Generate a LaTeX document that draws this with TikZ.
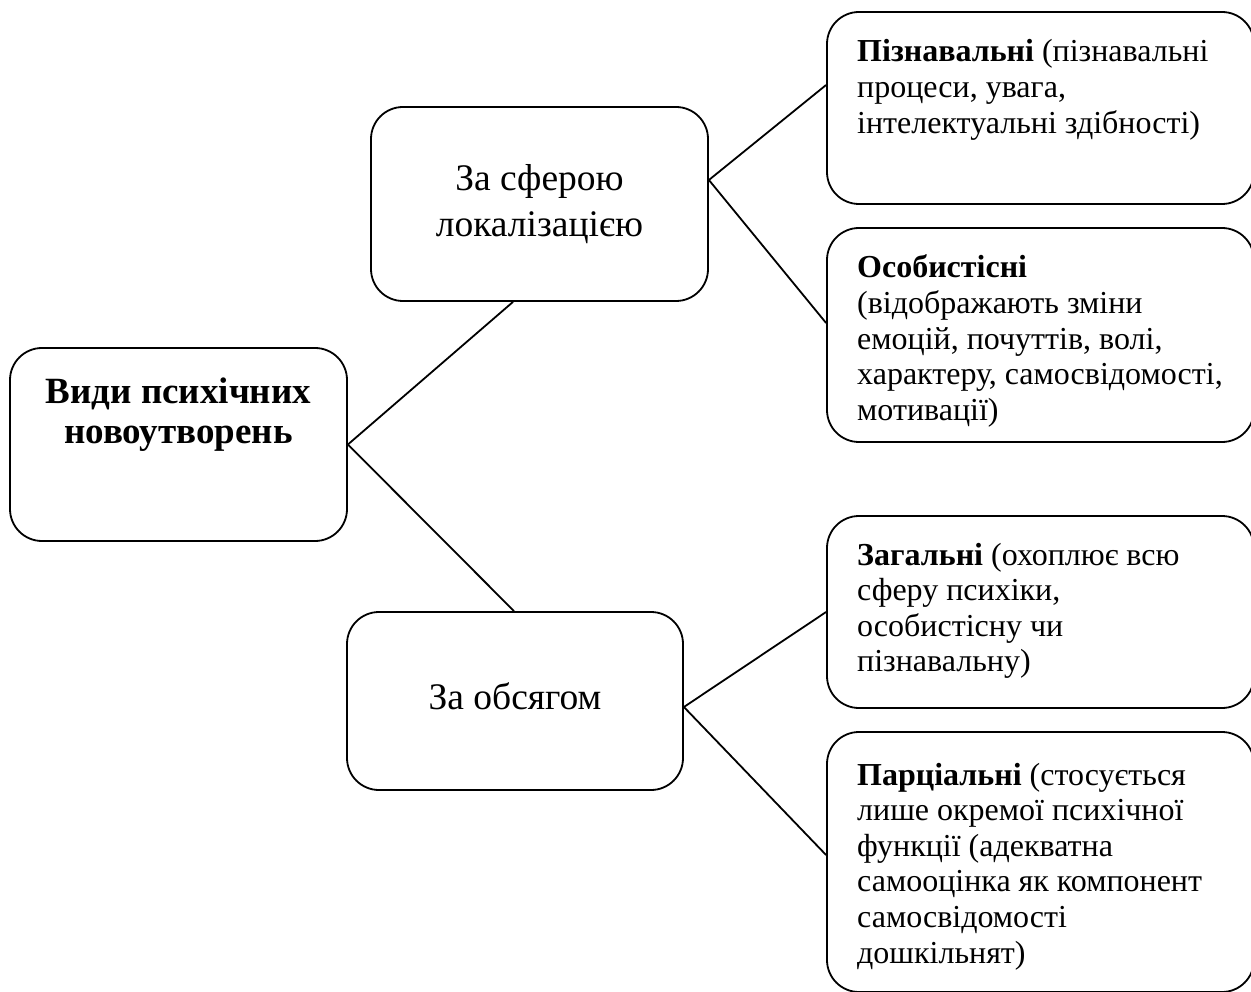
\documentclass[tikz,border=0pt]{standalone}
\usepackage{fontspec}
\setmainfont{Liberation Serif}
\tikzset{
  box/.style={draw, line width=1.8pt, rounded corners=32pt, inner sep=0pt},
  conn/.style={line width=1.8pt},
  sidetext/.style={inner sep=0pt, anchor=base west, font=\fontsize{32}{35.6}\selectfont},
  midtext/.style={inner sep=0pt, anchor=base, font=\fontsize{37.5}{46}\selectfont},
  roottext/.style={inner sep=0pt, anchor=base, font=\fontsize{37}{40}\selectfont\bfseries},
}
\begin{document}
\begin{tikzpicture}[x=1pt,y=-1pt]
\path[use as bounding box, fill=white] (0,0) rectangle (1251,992);

% boxes
\node[box, minimum width=337pt, minimum height=193pt] (root) at (178.5,444.5) {};
\node[box, minimum width=337pt, minimum height=194pt] (sph) at (539.5,204) {};
\node[box, minimum width=336pt, minimum height=178pt] (vol) at (515,701) {};
\node[box, minimum width=427pt, minimum height=192pt] (cog) at (1040.5,108) {};
\node[box, minimum width=427pt, minimum height=214pt] (pers) at (1040.5,335) {};
\node[box, minimum width=427pt, minimum height=192pt] (gen) at (1040.5,612) {};
\node[box, minimum width=427pt, minimum height=260pt] (part) at (1040.5,862) {};

% texts
\node[roottext] (troot) at (178.5,403) {\begin{tabular}[t]{@{}c@{}}Види психічних\\новоутворень\end{tabular}};
\node[midtext] (tsph) at (539.5,191) {\begin{tabular}[t]{@{}c@{}}За сферою\\локалізацією\end{tabular}};
\node[midtext] (tvol) at (515,709) {За обсягом};
\node[sidetext] (tcog) at (857,62) {\begin{tabular}[t]{@{}l@{}}\textbf{Пізнавальні} (пізнавальні\\процеси, увага,\\інтелектуальні здібності)\end{tabular}};
\node[sidetext] (tpers) at (857,278) {\begin{tabular}[t]{@{}l@{}}\textbf{Особистісні}\\(відображають зміни\\емоцій, почуттів, волі,\\характеру, самосвідомості,\\мотивації)\end{tabular}};
\node[sidetext] (tgen) at (857,565) {\begin{tabular}[t]{@{}l@{}}\textbf{Загальні} (охоплює всю\\сферу психіки,\\особистісну чи\\пізнавальну)\end{tabular}};
\node[sidetext] (tpart) at (857,785) {\begin{tabular}[t]{@{}l@{}}\textbf{Парціальні} (стосується\\лише окремої психічної\\функції (адекватна\\самооцінка як компонент\\самосвідомості\\дошкільнят)\end{tabular}};

% connectors
\draw[conn] (root.east) -- ([xshift=-26.5pt]sph.south);
\draw[conn] (root.east) -- ([xshift=-1pt]vol.north);
\draw[conn] ([yshift=24pt]sph.east) -- ([yshift=23pt]cog.west);
\draw[conn] ([yshift=24pt]sph.east) -- ([yshift=12pt]pers.west);
\draw[conn] ([yshift=-6pt]vol.east) -- (gen.west);
\draw[conn] ([yshift=-6pt]vol.east) -- ([yshift=7pt]part.west);
\end{tikzpicture}
\end{document}
